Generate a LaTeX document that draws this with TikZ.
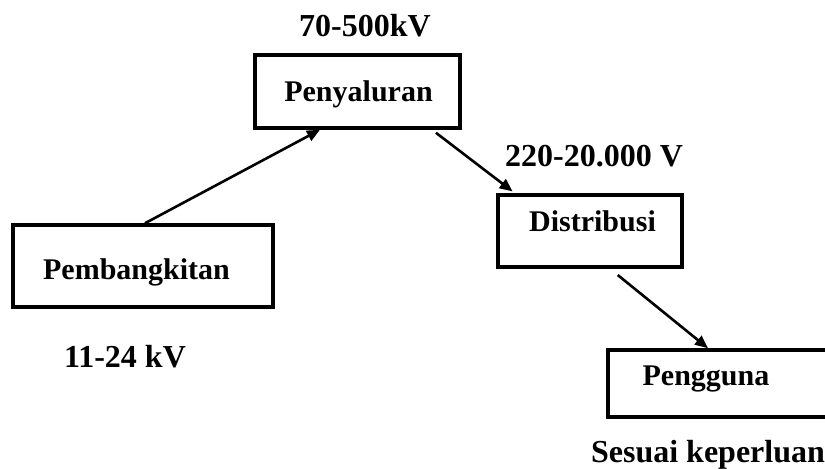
\documentclass[tikz,border=0pt]{standalone}
\usepackage{fontspec}
\setmainfont{Liberation Serif}
\usetikzlibrary{arrows.meta}
\begin{document}
\begin{tikzpicture}[x=1pt,y=-1pt,
  box/.style={draw, line width=3.5pt, inner sep=0pt},
  txt/.style={anchor=base, inner sep=0pt, font=\bfseries\fontsize{30}{36}\selectfont},
  lbl/.style={anchor=base, inner sep=0pt, font=\bfseries\fontsize{32}{38}\selectfont},
  arr/.style={line width=2.6pt, -{Triangle[length=13pt,width=11pt]}}]
\useasboundingbox (0,0) rectangle (825,470);
\clip (0,0) rectangle (825,470);
% boxes
\node[box, minimum width=260pt, minimum height=82pt] (pemb) at (143,266) {};
\node[box, minimum width=205pt, minimum height=73pt] (peny) at (357.5,91.5) {};
\node[box, minimum width=184pt, minimum height=72pt] (dist) at (590,231) {};
\node[box, minimum width=240pt, minimum height=67pt] (peng) at (728,383.5) {};
% texts
\node[txt] (tpemb) at (136.5,280) {Pembangkitan};
\node[txt] (tpeny) at (358.5,102) {Penyaluran};
\node[txt] (tdist) at (592.5,232) {Distribusi};
\node[txt] (tpeng) at (706,385) {Pengguna};
\node[lbl] (l1) at (125,368) {11-24 kV};
\node[lbl] (l2) at (365,37) {70-500kV};
\node[lbl] (l3) at (594,167) {220-20.000 V};
\node[lbl] (l4) at (708,462) {Sesuai keperluan};
% connectors
\draw[arr] (pemb.north -| 145,0) -- (peny.south -| 320,0);
\draw[arr, shorten <=5pt, shorten >=3pt] (peny.south -| 432,0) -- (dist.north -| 515,0);
\draw[arr, shorten <=10pt] (dist.south -| 610,0) -- (peng.north -| 708,0);
\end{tikzpicture}
\end{document}
